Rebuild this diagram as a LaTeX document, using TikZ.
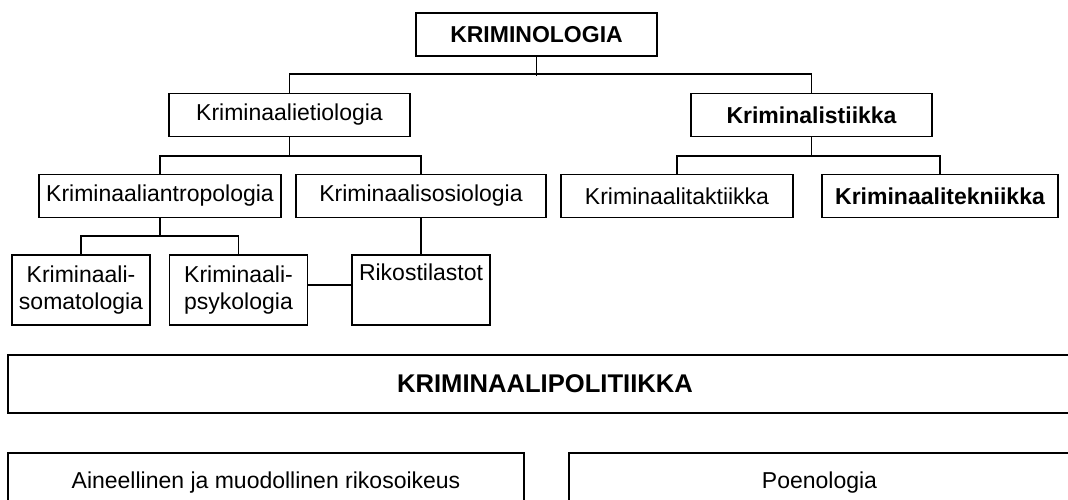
\documentclass[tikz,border=0pt]{standalone}
\usepackage{fontspec}
\setmainfont{Liberation Sans}
\begin{document}
\begin{tikzpicture}[x=0.5pt,y=-0.5pt,
        catbox/.style={draw, line width=0.8pt, inner sep=0pt, minimum height=21.5pt, font=\fontsize{11.5}{13.5}\selectfont},
        leafbox/.style={catbox, anchor=north, minimum width=69pt, minimum height=35pt, text width=66pt, align=center},
        link/.style={line width=0.8pt}]
        \useasboundingbox (0,0) rectangle (1068,499);
        \clip (0,0) rectangle (1068,499);

        % Top of the tree
        \node[catbox, minimum width=120.5pt] (krim) at (536.5,34.5) {\bfseries KRIMINOLOGIA};
        \node[catbox, minimum width=120.5pt] (etio) at (289.5,115) {Kriminaalietiologia};
        \node[catbox, minimum width=120.5pt] (kmlst) at (811.5,115) {\bfseries Kriminalistiikka};

        % Second level
        \node[catbox, minimum width=121pt] (antro) at (160,196) {Kriminaaliantropologia};
        \node[catbox, minimum width=125pt] (sosio) at (421,196) {Kriminaalisosiologia};
        \node[catbox, minimum width=116pt] (takt) at (677,196) {Kriminaalitaktiikka};
        \node[catbox, minimum width=118pt] (tekn) at (940,196) {\bfseries Kriminaalitekniikka};

        % Leaves
        \node[leafbox] (soma) at (81,254) {Kriminaali-\\somatologia};
        \node[leafbox] (psyko) at (238.5,254) {Kriminaali-\\psykologia};
        \node[leafbox] (rikos) at (421,254) {Rikostilastot\\\strut};

        % Connectors
        \draw[link] (krim.south) -- ++(0,19);
        \draw[link] (etio.north) -- ++(0,-19) -| (kmlst.north);
        \draw[link] (etio.south) -- ++(0,20);
        \draw[link] (antro.north) -- ++(0,-18) -| (sosio.north);
        \draw[link] (kmlst.south) -- ++(0,19);
        \draw[link] (takt.north) -- ++(0,-18) -| (tekn.north);
        \draw[link] (antro.south) -- ++(0,19);
        \draw[link] (soma.north) -- ++(0,-18) -| (psyko.north);
        \draw[link] (sosio.south) -- (rikos.north);
        \draw[link] ([yshift=2.5pt]psyko.east) -- ([yshift=2.5pt]psyko.east -| rikos.west);

        % Policy band
        \node[catbox, minimum width=537pt, minimum height=29pt, font=\fontsize{12.8}{15}\selectfont\bfseries] (polit) at (545,384) {KRIMINAALIPOLITIIKKA};
        \node[catbox, minimum width=258pt, minimum height=30pt] (aine) at (266,483) {Aineellinen ja muodollinen rikosoikeus};
        \node[catbox, minimum width=250.5pt, minimum height=30pt] (poeno) at (819.5,483) {Poenologia};
    \end{tikzpicture}
\end{document}
